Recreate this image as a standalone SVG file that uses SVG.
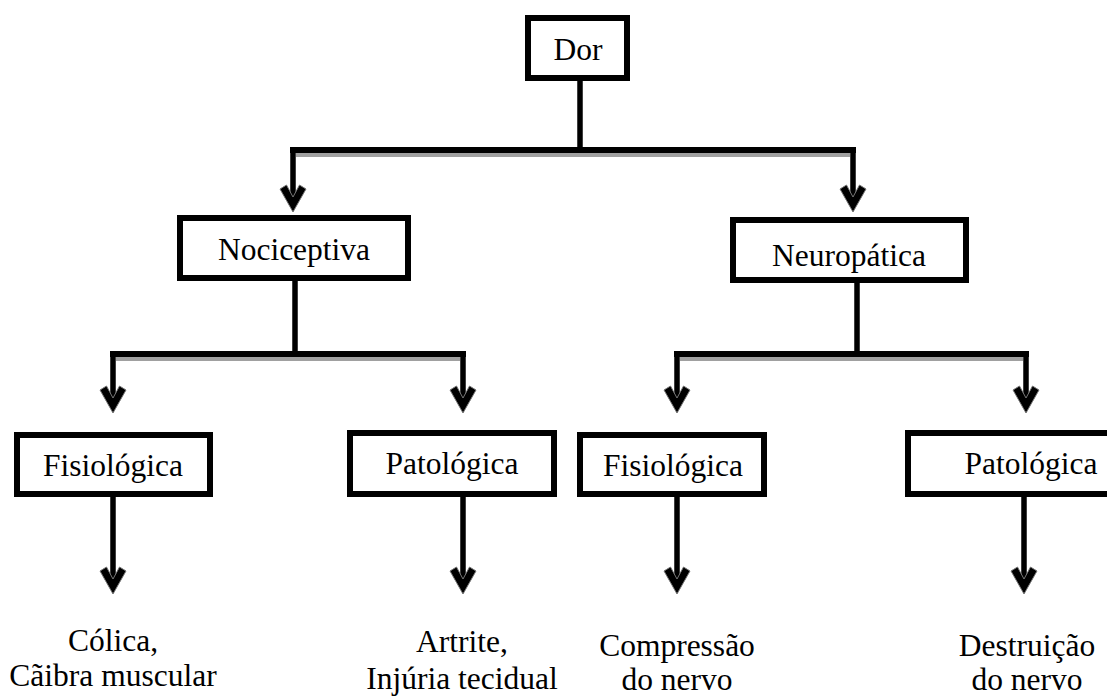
<svg xmlns="http://www.w3.org/2000/svg" width="1107" height="696" viewBox="0 0 1107 696">
<style>
.box{fill:#fff;stroke:#000;stroke-width:6}
.lbl{font-family:"Liberation Serif","Times New Roman",serif;font-size:31.5px;fill:#000;text-anchor:middle}
.v{stroke:#000;stroke-width:5.5;fill:none}
.va{stroke:#000;stroke-width:5.5;fill:none;marker-end:url(#ah)}
.hb{fill:#000}
.hg{fill:#a0a0a0}
</style>
<defs>
<marker id="ah" markerUnits="userSpaceOnUse" markerWidth="40" markerHeight="40" refX="0" refY="0" orient="auto" overflow="visible">
<path d="M13,0 L-10,-13 L-14,-6.5 L-2,0 L-14,6.5 L-10,13 Z" fill="#000" stroke="#777" stroke-width="1" stroke-linejoin="round"/>
</marker>
</defs>
<rect width="1107" height="696" fill="#fff"/>
<g id="connectors">
<line class="v" x1="580" y1="80" x2="580" y2="150"/>
<rect class="hb" x="290" y="147" width="566" height="6"/>
<rect class="hg" x="296" y="153" width="554" height="4"/>
<line class="va" x1="293" y1="147" x2="293" y2="199"/>
<line class="va" x1="853" y1="147" x2="853" y2="199"/>

<line class="v" x1="295" y1="281" x2="295" y2="354"/>
<rect class="hb" x="110" y="351" width="356" height="6"/>
<rect class="hg" x="116" y="357" width="344" height="4"/>
<line class="va" x1="113" y1="351" x2="113" y2="400"/>
<line class="va" x1="463" y1="351" x2="463" y2="400"/>

<line class="v" x1="857" y1="283" x2="857" y2="354"/>
<rect class="hb" x="674" y="351" width="355" height="6"/>
<rect class="hg" x="680" y="357" width="343" height="4"/>
<line class="va" x1="677" y1="351" x2="677" y2="400"/>
<line class="va" x1="1026" y1="351" x2="1026" y2="400"/>

<line class="va" x1="113" y1="497" x2="113" y2="581"/>
<line class="va" x1="463" y1="497" x2="463" y2="581"/>
<line class="va" x1="677" y1="497" x2="677" y2="581"/>
<line class="va" x1="1024" y1="497" x2="1024" y2="581"/>
</g>
<g id="dor"><rect class="box" x="528" y="18" width="99" height="60"/><text class="lbl" x="578" y="60">Dor</text></g>
<g id="nociceptiva"><rect class="box" x="180" y="218" width="228" height="60"/><text class="lbl" x="294" y="260">Nociceptiva</text></g>
<g id="neuropatica"><rect class="box" x="733" y="220" width="233" height="60"/><text class="lbl" x="849" y="266">Neuropática</text></g>
<g id="fisiologica1"><rect class="box" x="17" y="435" width="193" height="59"/><text class="lbl" x="113" y="476">Fisiológica</text></g>
<g id="patologica1"><rect class="box" x="350" y="433" width="204" height="61"/><text class="lbl" x="452" y="474">Patológica</text></g>
<g id="fisiologica2"><rect class="box" x="580" y="435" width="184" height="59"/><text class="lbl" x="673" y="476">Fisiológica</text></g>
<g id="patologica2"><rect class="box" x="908" y="433" width="210" height="61"/><text class="lbl" x="1031" y="474">Patológica</text></g>
<g id="ex1"><text class="lbl" x="113" y="651">Cólica,</text><text class="lbl" x="113" y="686">Cãibra muscular</text></g>
<g id="ex2"><text class="lbl" x="462" y="652">Artrite,</text><text class="lbl" x="462" y="689">Injúria tecidual</text></g>
<g id="ex3"><text class="lbl" x="677" y="656">Compressão</text><text class="lbl" x="677" y="690">do nervo</text></g>
<g id="ex4"><text class="lbl" x="1027" y="656">Destruição</text><text class="lbl" x="1027" y="690">do nervo</text></g>
</svg>
